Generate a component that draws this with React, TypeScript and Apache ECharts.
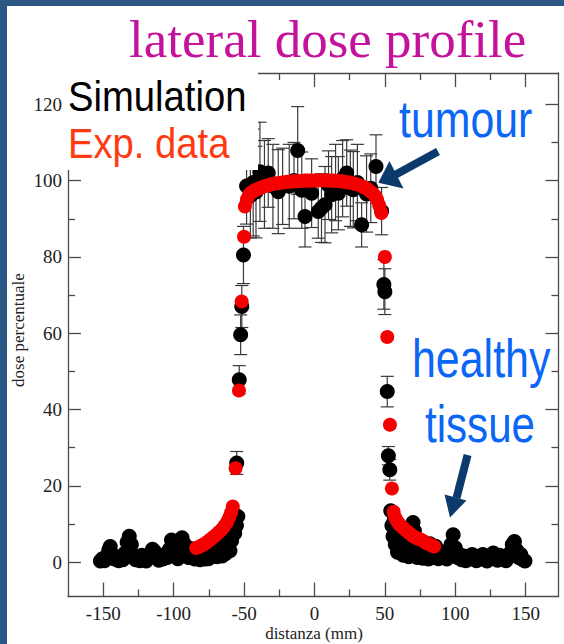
import React, { useEffect, useRef } from "react";
import * as echarts from "echarts";

// ---- axis ticks ----
const xMajorTicks = [-150, -100, -50, 0, 50, 100, 150];
const xMinorTicks = [-125, -75, -25, 25, 75, 125];
const yMajorTicks = [0, 20, 40, 60, 80, 100, 120];
const yMinorTicks = [10, 30, 50, 70, 90, 110];

// ---- experimental data (red) ----
const expX = [
  -84, -82, -80, -78, -76, -74, -72, -70, -68, -66, -64, -62, -60.5, -59.2, -58, -56, -53.6, -51.7, -50, -49.4,
  -48, -46.5, -45, -43, -41, -39, -37, -35, -33, -31, -29, -27, -25, -23, -21, -19, -17, -15, -13, -11, -9, -7,
  -5, -3, -1, 1, 3, 5, 7, 9, 11, 13, 15, 17, 19, 21, 23, 25, 27, 29, 31, 33, 35, 37, 39, 41, 43, 44.5, 46, 47.5,
  50, 51.7, 53.6, 55, 56.2, 57.2, 58.3, 59.5, 61, 63, 65, 67, 69, 71, 73, 75, 77, 79, 81, 83, 85,
];
const expY = [
  3.7, 4.0, 4.4, 4.8, 5.3, 5.9, 6.5, 7.1, 7.8, 8.5, 9.4, 10.5, 11.7, 13.0, 14.6, 24.6, 45.0, 68.3, 85.3, 93.2,
  95.0, 96.2, 96.8, 97.3, 97.7, 98.0, 98.3, 98.6, 98.8, 99.0, 99.2, 99.3, 99.4, 99.5, 99.6, 99.7, 99.7, 99.8, 99.8,
  99.9, 99.9, 100, 100, 100, 100, 100, 100.1, 100.1, 100.1, 100, 100, 100, 99.9, 99.9, 99.8, 99.7, 99.6, 99.5, 99.3,
  99.1, 98.9, 98.6, 98.3, 97.9, 97.4, 96.8, 96.0, 95.0, 93.5, 91.5,
  80.0, 59.0, 36.0, 19.3, 13.2, 11.8, 11.0, 10.3, 9.6, 9.0, 8.3, 7.7, 7.1, 6.6, 6.2, 6.0, 5.6, 5.1, 4.8, 4.4, 4.1,
];

// ---- simulation tails (black, small errors hidden by markers) ----
const simTailX = [
  -152, -150.5, -149, -147.5, -146, -145, -143.5, -142, -140.5, -139, -137.5, -136, -134.5, -133, -131.5, -130,
  -128.5, -127, -125.5, -124, -122.5, -121, -119.5, -118, -116.5, -115, -113.5, -112, -110.5, -109, -107.5, -106,
  -104.5, -103, -101.5, -100, -98.5, -97, -95.5, -94, -92.5, -91, -89.5, -88, -86.5, -85, -83.5, -82, -81.2, -80.5,
  -79, -77.5, -76, -75.2, -74.5, -73, -71.5, -70, -69.2, -68.5, -67, -65.5, -64, -63.2, -62.5, -61.5, -60.5, -60,
  -59.5, -58.8, -58.2, -57.4, -56.6, -55.4, -54.4,
  54.2, 55, 55.8, 56.6, 57.4, 58.2, 59, 60, 61, 62, 63, 64, 65, 66, 67, 68, 69, 70, 71, 72, 73, 74, 75, 76, 77, 78,
  79, 80, 81, 82, 83, 84, 85, 86, 87, 88, 89.5, 91, 92.5, 94, 95.5, 97, 98.5, 100, 101.5, 103, 104.5, 106, 107.5,
  109, 110.5, 112, 113.5, 115, 116.5, 118, 119.5, 121, 122.5, 124, 125.5, 127, 128.5, 130, 131.5, 133, 134.5, 136,
  137.5, 139, 140.5, 142, 143.5, 145, 146.5, 148, 149.5,
];
const simTailY = [
  0.3, 0.9, 0.4, 1.6, 3.2, 4.1, 2.0, 0.8, 1.2, 0.4, 1.4, 0.6, 2.4, 5.2, 6.8, 4.6,
  1.6, 0.6, 1.4, 0.4, 1.8, 0.8, 0.3, 1.4, 2.2, 3.4, 2.8, 1.2, 0.5, 1.6, 0.8, 2.0,
  1.2, 3.4, 5.8, 4.6, 1.8, 0.9, 5.0, 6.4, 4.8, 2.4, 1.2, 3.6, 2.2, 0.8, 2.6, 1.4, 0.6, 3.0,
  1.8, 0.8, 2.6, 0.9, 3.6, 1.6, 4.2, 2.4, 1.4, 5.0, 3.2, 1.6, 4.6, 2.2, 6.2, 3.6, 7.4, 3.0,
  9.2, 5.6, 10.8, 12.8, 7.6, 9.6, 12.0,
  13.5, 9.6, 6.8, 11.0, 4.6, 8.2, 2.6, 5.8, 3.6, 7.0, 1.8, 4.4, 2.8, 5.6, 1.4, 7.4, 9.6, 10.4, 8.2, 3.0, 1.2, 5.8,
  2.4, 3.8, 1.0, 4.6, 2.0, 3.0, 0.8, 4.8, 2.2, 3.4, 1.2, 4.2, 2.6, 0.9, 2.8, 1.2, 2.2, 0.8, 1.8, 4.6, 7.2, 3.8, 1.2,
  2.0, 0.6, 1.6, 0.4, 1.4, 0.8, 2.0, 1.0, 0.4, 1.4, 0.8, 2.0, 0.8, 0.3, 1.6, 0.9, 2.4, 1.2, 0.5, 1.8, 0.8, 1.4, 0.4,
  1.2, 2.4, 4.6, 5.4, 3.2, 1.2, 2.0, 0.6, 0.3,
];

// ---- simulation core (black, with error bars) ----
const simCoreX = [
  -55.2, -53.4, -52.4, -51.6, -50.4, -48.2, -45.5, -43.5, -41.5, -38.7, -35.5, -32.8, -29.5, -25.7, -22.6, -17.9,
  -14.5, -11.9, -9, -6.7, -2, 2.7, 5, 7.5, 10, 12.2, 15, 17, 20, 22.9, 25.5, 27.6, 30.5, 33.5, 37, 40, 43.7, 47.7,
  49.3, 50, 51.7, 52.5, 53.5,
];
const simCoreY = [
  26.0, 47.8, 59.6, 67.0, 80.5, 98.6, 96.0, 99.5, 97.0, 102.3, 99.0, 102.0, 98.5, 97.1, 98.5, 98.5,
  100.0, 107.9, 97.5, 90.6, 96.7, 91.9, 92.8, 93.7, 98.8, 96.3, 99.5, 96.7, 100.5, 102.0, 98.0, 97.6, 99.5, 88.4,
  96.5, 98.0, 103.7, 92.0, 72.8, 70.9, 44.7, 27.9, 24.2,
];
const simCoreErr = [
  3.0, 3.7, 5.2, 5.5, 7.5, 10, 11, 14, 12, 13, 11.5, 9, 11, 11, 10, 11,
  10, 11.5, 10, 8, 9, 7, 9, 10, 9, 10, 10, 9.6, 10, 8.7, 10, 10, 10, 5.8,
  10, 9, 8.3, 6.2, 6.5, 6, 4, 2.4, 2.7,
];

const X_MIN = -175;
const X_MAX = 173.3;
const Y_MIN = -9;
const Y_MAX = 128.2;

const AXIS_COLOR = "#4a4a4a";
const SERIF = "Liberation Serif";
const SANS = "Liberation Sans";

function buildOption() {
  const lineStyle = { color: AXIS_COLOR, width: 1.3 };
  const mkX = (pos: string, ticks: number[], len: number, labels: boolean, line: boolean) => ({
    type: "value",
    position: pos,
    min: X_MIN,
    max: X_MAX,
    axisLine: { show: line, onZero: false, lineStyle },
    axisTick: { show: true, inside: true, length: len, customValues: ticks, lineStyle },
    axisLabel: labels
      ? { show: true, customValues: ticks, margin: 7, fontFamily: SERIF, fontSize: 19, color: "#222" }
      : { show: false },
    splitLine: { show: false },
  });
  const mkY = (pos: string, ticks: number[], len: number, labels: boolean, line: boolean) => ({
    type: "value",
    position: pos,
    min: Y_MIN,
    max: Y_MAX,
    axisLine: { show: line, onZero: false, lineStyle },
    axisTick: { show: true, inside: true, length: len, customValues: ticks, lineStyle },
    axisLabel: labels
      ? { show: true, customValues: ticks, margin: 6, fontFamily: SERIF, fontSize: 19, color: "#222" }
      : { show: false },
    splitLine: { show: false },
  });

  const errData = simCoreX.map((x, i) => [x, simCoreY[i] - simCoreErr[i], simCoreY[i] + simCoreErr[i]]);
  const simData = simTailX
    .map((x, i) => [x, simTailY[i]])
    .concat(simCoreX.map((x, i) => [x, simCoreY[i]]));
  const expData = expX.map((x, i) => [x, expY[i]]);

  const navy = "#0c3a6c";
  const blue = "#0a66f6";

  return {
    animation: false,
    backgroundColor: "#ffffff",
    textStyle: { fontFamily: SERIF },
    grid: { left: 68, top: 73, width: 490.5, height: 523.5, containLabel: false },
    xAxis: [
      mkX("bottom", xMajorTicks, 14, true, true),
      mkX("bottom", xMinorTicks, 7, false, false),
      mkX("top", xMajorTicks, 14, false, true),
      mkX("top", xMinorTicks, 7, false, false),
    ],
    yAxis: [
      mkY("left", yMajorTicks, 13, true, true),
      mkY("left", yMinorTicks, 7, false, false),
      mkY("right", yMajorTicks, 13, false, true),
      mkY("right", yMinorTicks, 7, false, false),
    ],
    series: [
      {
        type: "custom",
        name: "errors",
        xAxisIndex: 0,
        yAxisIndex: 0,
        z: 1,
        data: errData,
        encode: { x: 0, y: [1, 2] },
        renderItem: (params: any, api: any) => {
          const x = api.value(0);
          const lo = api.coord([x, api.value(1)]);
          const hi = api.coord([x, api.value(2)]);
          const hw = 6.5;
          const st = { stroke: "#3a3a3a", lineWidth: 1.2 };
          return {
            type: "group",
            children: [
              { type: "line", shape: { x1: hi[0], y1: hi[1], x2: lo[0], y2: lo[1] }, style: st },
              { type: "line", shape: { x1: hi[0] - hw, y1: hi[1], x2: hi[0] + hw, y2: hi[1] }, style: st },
              { type: "line", shape: { x1: lo[0] - hw, y1: lo[1], x2: lo[0] + hw, y2: lo[1] }, style: st },
            ],
          };
        },
      },
      {
        type: "scatter",
        name: "Simulation",
        xAxisIndex: 0,
        yAxisIndex: 0,
        z: 2,
        symbol: "circle",
        symbolSize: 15,
        itemStyle: { color: "#000000", opacity: 1 },
        data: simData,
      },
      {
        type: "scatter",
        name: "Exp. data",
        xAxisIndex: 0,
        yAxisIndex: 0,
        z: 3,
        symbol: "circle",
        symbolSize: 14,
        itemStyle: { color: "#f50000", opacity: 1 },
        data: expData,
      },
    ],
    graphic: [
      // slide frame strips
      { type: "rect", z: 100, shape: { x: 0, y: 0, width: 564, height: 6 }, style: { fill: "#2c5784" } },
      { type: "rect", z: 100, shape: { x: 0, y: 0, width: 7, height: 644 }, style: { fill: "#2c5784" } },
      // legend box
      { type: "rect", z: 50, shape: { x: 64, y: 67, width: 194, height: 103 }, style: { fill: "#ffffff" } },
      {
        type: "text",
        z: 60,
        x: 68,
        y: 97.2,
        scaleX: 0.91,
        style: { text: "Simulation", fill: "#000000", fontFamily: SANS, fontSize: 42, textAlign: "left", textVerticalAlign: "middle" },
      },
      {
        type: "text",
        z: 60,
        x: 68,
        y: 143.7,
        scaleX: 0.91,
        style: { text: "Exp. data", fill: "#ff3a12", fontFamily: SANS, fontSize: 42, textAlign: "left", textVerticalAlign: "middle" },
      },
      // title
      {
        type: "text",
        z: 60,
        x: 129,
        y: 39.1,
        style: { text: "lateral dose profile", fill: "#c4129c", fontFamily: SERIF, fontSize: 53, textAlign: "left", textVerticalAlign: "middle" },
      },
      // annotations
      {
        type: "text",
        z: 60,
        x: 399,
        y: 119,
        scaleX: 0.84,
        style: { text: "tumour", fill: blue, fontFamily: SANS, fontSize: 51, textAlign: "left", textVerticalAlign: "middle" },
      },
      {
        type: "text",
        z: 60,
        x: 412,
        y: 358.3,
        scaleX: 0.81,
        style: { text: "healthy", fill: blue, fontFamily: SANS, fontSize: 53, textAlign: "left", textVerticalAlign: "middle" },
      },
      {
        type: "text",
        z: 60,
        x: 425,
        y: 423.7,
        scaleX: 0.81,
        style: { text: "tissue", fill: blue, fontFamily: SANS, fontSize: 52, textAlign: "left", textVerticalAlign: "middle" },
      },
      // arrows
      { type: "line", z: 60, shape: { x1: 438, y1: 151.5, x2: 394, y2: 175.5 }, style: { stroke: navy, lineWidth: 8 } },
      { type: "polygon", z: 60, shape: { points: [[378.3, 182.7], [389.5, 161], [403.5, 188.5]] }, style: { fill: navy } },
      { type: "line", z: 60, shape: { x1: 467.6, y1: 455, x2: 456.5, y2: 498 }, style: { stroke: navy, lineWidth: 8 } },
      { type: "polygon", z: 60, shape: { points: [[450, 517.5], [444.5, 494.5], [466.5, 500.5]] }, style: { fill: navy } },
      // axis names
      {
        type: "text",
        z: 60,
        x: 314,
        y: 633,
        style: { text: "distanza (mm)", fill: "#222", fontFamily: SERIF, fontSize: 17, textAlign: "center", textVerticalAlign: "middle" },
      },
      {
        type: "text",
        z: 60,
        x: 18,
        y: 330,
        rotation: Math.PI / 2,
        style: { text: "dose percentuale", fill: "#222", fontFamily: SERIF, fontSize: 17, textAlign: "center", textVerticalAlign: "middle" },
      },
    ],
  };
}

export default function App() {
  const ref = useRef<HTMLDivElement | null>(null);
  useEffect(() => {
    if (!ref.current) return;
    const chart = echarts.init(ref.current, undefined, { renderer: "svg" });
    chart.setOption(buildOption() as any);
    return () => chart.dispose();
  }, []);
  return (
    <div
      ref={ref}
      style={{ position: "fixed", left: 0, top: 0, width: 564, height: 644, background: "#ffffff" }}
    />
  );
}
